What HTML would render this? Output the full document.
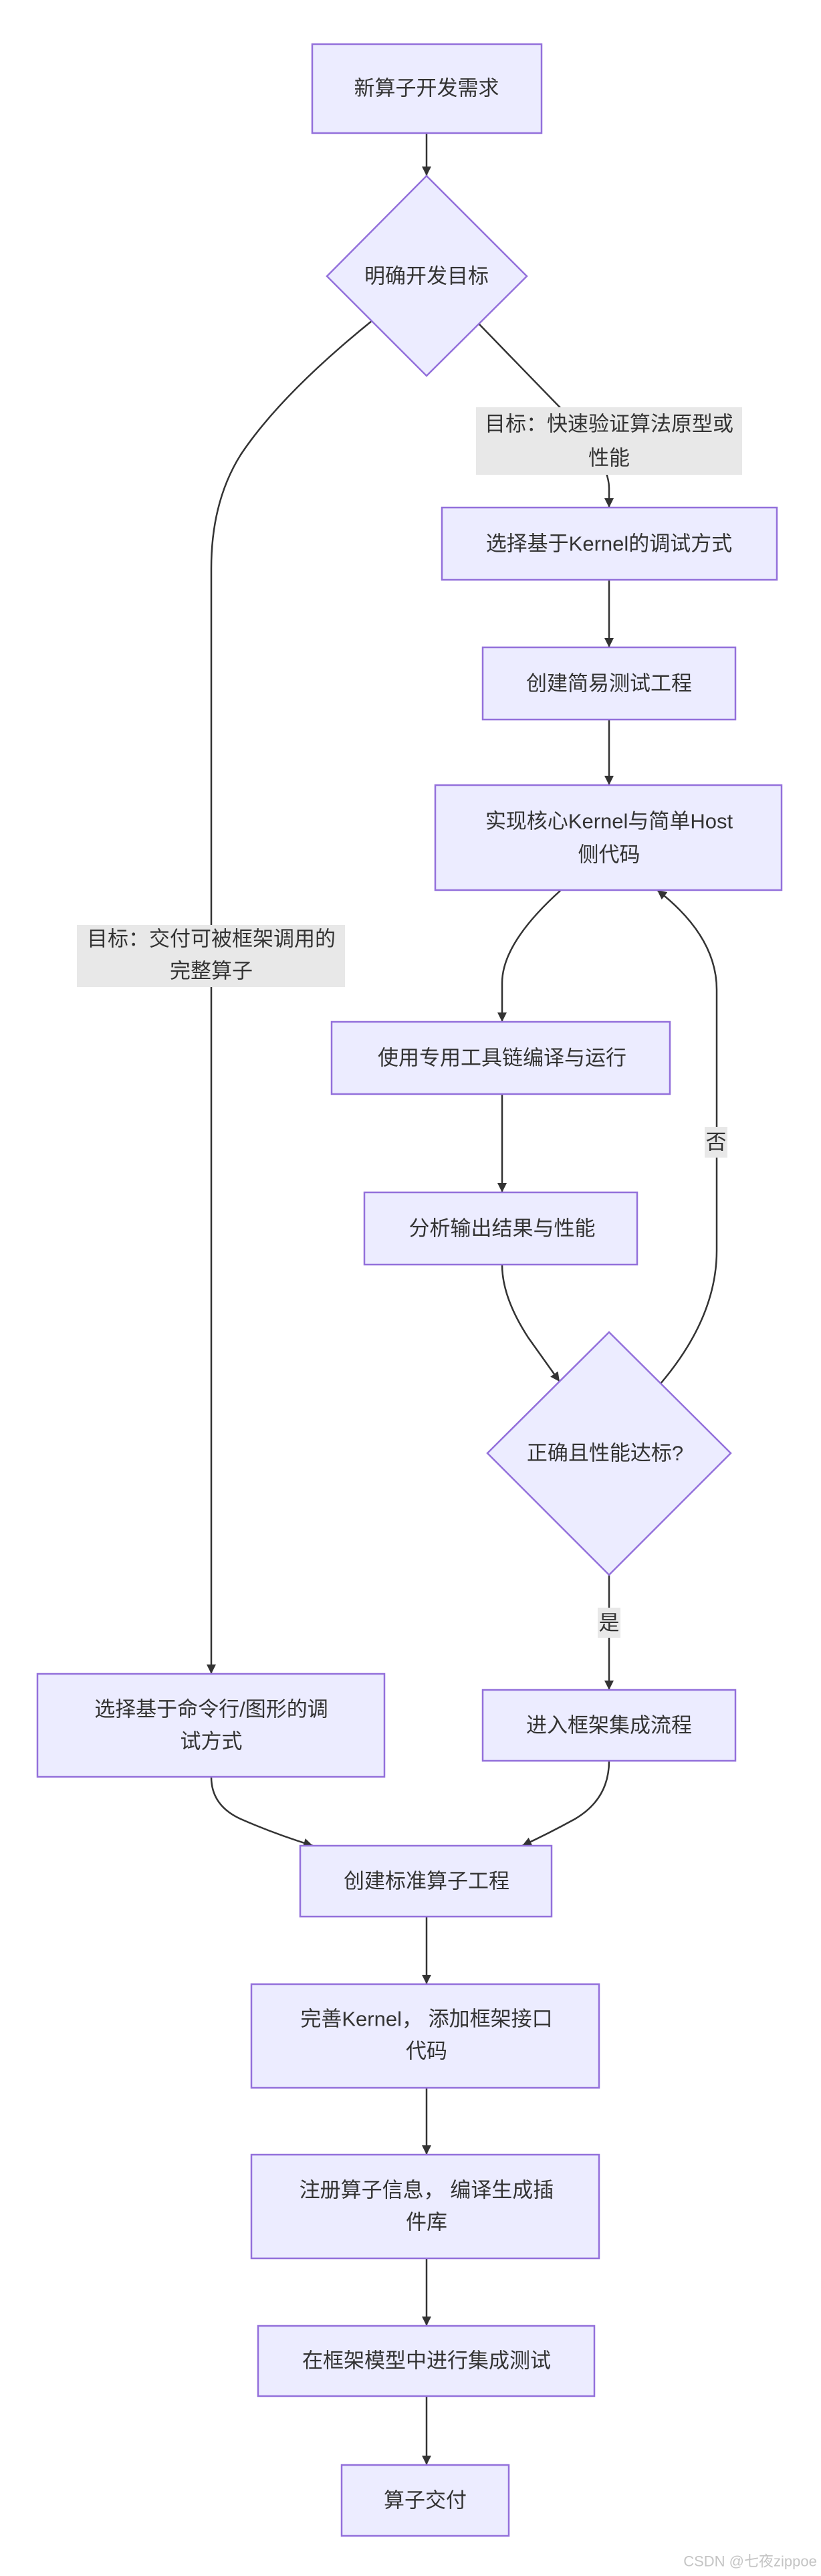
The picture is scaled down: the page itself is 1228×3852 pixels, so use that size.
<!DOCTYPE html>
<html><head><meta charset="utf-8"><style>
html,body{margin:0;padding:0;background:#fff;}
svg{display:block}
text{font-family:"Liberation Sans","Noto Sans CJK SC",sans-serif;font-size:31px;fill:#333;text-anchor:middle;dominant-baseline:central}
.n{fill:#ECECFF;stroke:#9370DB;stroke-width:2.5}
.e{fill:none;stroke:#333;stroke-width:2.5}
.l{fill:#e8e8e8}
</style></head><body>
<svg width="1228" height="3852" viewBox="0 0 1228 3852" xmlns="http://www.w3.org/2000/svg">
<defs><marker id="a" viewBox="0 0 10 10" refX="10" refY="5" markerWidth="14" markerHeight="14" markerUnits="userSpaceOnUse" orient="auto"><path d="M0,0 L10,5 L0,10 z" fill="#333"/></marker></defs>
<g class="e" marker-end="url(#a)">
<path d="M638,199 L638,263"/>
<path d="M717,485 L848,620 Q911,690 911,730 L911,759"/>
<path d="M556,480 Q420,590 360,680 Q316,750 316,850 L316,2503"/>
<path d="M911,867 L911,968"/>
<path d="M911,1076 L911,1174"/>
<path d="M839,1331 Q751,1410 751,1470 L751,1528"/>
<path d="M751,1636 L751,1783"/>
<path d="M751,1891 Q751,1940 790,2000 L837,2066"/>
<path d="M988,2069 Q1072,1970 1072,1870 L1072,1480 Q1072,1400 983,1331"/>
<path d="M911,2355 L911,2527"/>
<path d="M316,2657 Q316,2700 360,2720 Q410,2742 468,2760"/>
<path d="M911,2633 Q911,2690 860,2720 Q820,2742 781,2760"/>
<path d="M638,2866 L638,2967"/>
<path d="M638,3122 L638,3222"/>
<path d="M638,3377 L638,3478"/>
<path d="M638,3583 L638,3686"/>
</g>
<rect class="l" x="712" y="609" width="398" height="101"/>
<text x="911" y="634">目标：快速验证算法原型或</text><text x="911" y="685">性能</text>
<rect class="l" x="115" y="1383" width="401" height="93"/>
<text x="316" y="1404">目标：交付可被框架调用的</text><text x="316" y="1452">完整算子</text>
<rect class="l" x="1054" y="1685" width="34" height="46"/><text x="1071" y="1708">否</text>
<rect class="l" x="894" y="2404" width="34" height="45"/><text x="911" y="2427">是</text>

<rect class="n" x="467" y="66" width="343" height="133"/><text x="638" y="132">新算子开发需求</text>
<polygon class="n" points="638,263 788,413 638,562 489,413"/><text x="638" y="413">明确开发目标</text>
<rect class="n" x="661" y="759" width="501" height="108"/><text x="911" y="813">选择基于Kernel的调试方式</text>
<rect class="n" x="722" y="968" width="378" height="108"/><text x="911" y="1022">创建简易测试工程</text>
<rect class="n" x="651" y="1174" width="518" height="157"/><text x="911" y="1228">实现核心Kernel与简单Host</text><text x="911" y="1278">侧代码</text>
<rect class="n" x="496" y="1528" width="506" height="108"/><text x="751" y="1582">使用专用工具链编译与运行</text>
<rect class="n" x="545" y="1783" width="408" height="108"/><text x="751" y="1837">分析输出结果与性能</text>
<polygon class="n" points="911,1992 1093,2173 911,2355 729,2173"/><text x="905" y="2173">正确且性能达标?</text>
<rect class="n" x="56" y="2503" width="519" height="154"/><text x="316" y="2556">选择基于命令行/图形的调</text><text x="316" y="2604">试方式</text>
<rect class="n" x="722" y="2527" width="378" height="106"/><text x="911" y="2580">进入框架集成流程</text>
<rect class="n" x="449" y="2760" width="376" height="106"/><text x="638" y="2813">创建标准算子工程</text>
<rect class="n" x="376" y="2967" width="520" height="155"/><text x="638" y="3019">完善Kernel， 添加框架接口</text><text x="638" y="3067">代码</text>
<rect class="n" x="376" y="3222" width="520" height="155"/><text x="638" y="3275">注册算子信息， 编译生成插</text><text x="638" y="3323">件库</text>
<rect class="n" x="386" y="3478" width="503" height="105"/><text x="638" y="3530">在框架模型中进行集成测试</text>
<rect class="n" x="511" y="3686" width="250" height="106"/><text x="636" y="3739">算子交付</text>
<text x="1122" y="3830" style="font-size:22px;fill:#c4c4c4">CSDN @七夜zippoe</text>
</svg>
</body></html>
